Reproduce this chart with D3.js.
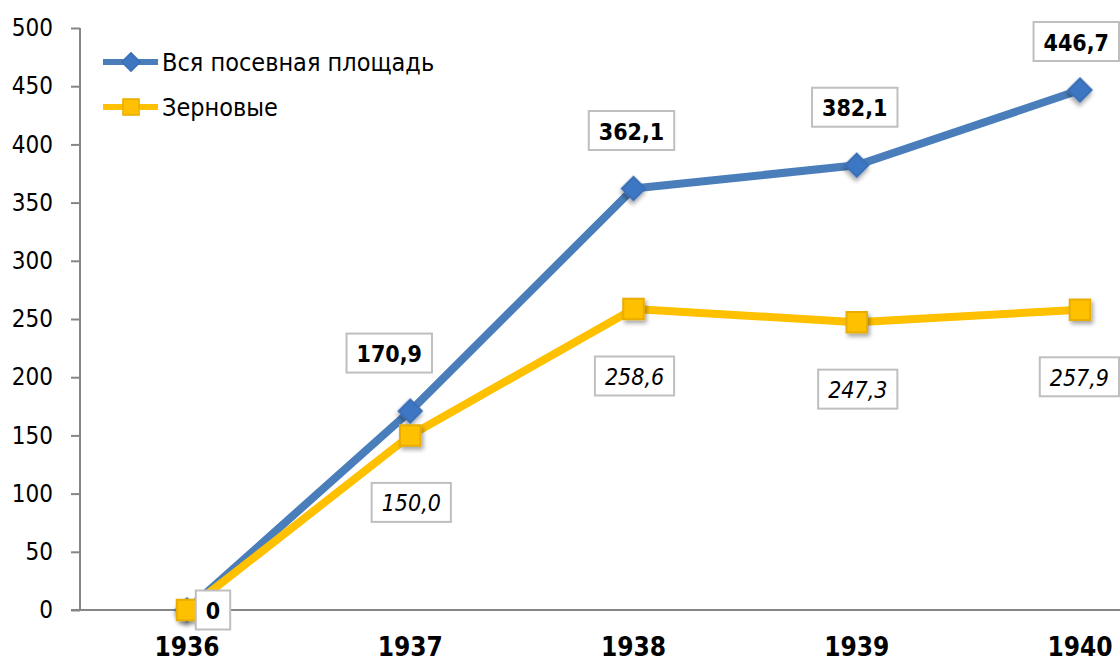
<!DOCTYPE html>
<html>
<head>
<meta charset="utf-8">
<script src="https://cdnjs.cloudflare.com/ajax/libs/d3/7.8.5/d3.min.js"></script>
<style>
  html, body { margin: 0; padding: 0; background: #fff; }
  svg { display: block; }
  text { font-family: "DejaVu Sans Condensed", "DejaVu Sans", sans-serif; font-stretch: condensed; }
</style>
</head>
<body>
<svg id="chart"></svg>
<script>
// Данные
var years = ["1936", "1937", "1938", "1939", "1940"];
var totalArea = [0, 170.9, 362.1, 382.1, 446.7];
var grainArea = [0, 150.0, 258.6, 247.3, 257.9];
var seriesNames = ["Вся посевная площадь", "Зерновые"];
var yTicks = [0, 50, 100, 150, 200, 250, 300, 350, 400, 450, 500];

var W = 1120, H = 664;
var blue = "#4a7ebb", yellow = "#ffc000";

var svg = d3.select("#chart").attr("width", W).attr("height", H);

var defs = svg.append("defs");
var f = defs.append("filter").attr("id", "shadow")
    .attr("x", "-50%").attr("y", "-50%").attr("width", "200%").attr("height", "200%");
f.append("feDropShadow").attr("dx", 2).attr("dy", 3).attr("stdDeviation", 2)
    .attr("flood-color", "#000").attr("flood-opacity", 0.35);

// Шкалы
var x = d3.scalePoint().domain(years).range([187, 1080]);
var y = d3.scaleLinear().domain([0, 500]).range([610, 28]);

// Ось Y
var yAxis = svg.append("g")
    .attr("transform", "translate(80,0)")
    .call(d3.axisLeft(y).tickValues(yTicks).tickSize(9).tickPadding(18));
yAxis.select(".domain").attr("stroke", "#868686").attr("stroke-width", 2).attr("d", "M0,28V610");
yAxis.selectAll(".tick line").attr("stroke", "#868686").attr("stroke-width", 2);
yAxis.selectAll(".tick text").attr("font-size", 24).attr("fill", "#000")
    .attr("font-family", "DejaVu Sans Condensed, DejaVu Sans, sans-serif");

// Ось X
svg.append("line").attr("x1", 71).attr("x2", W).attr("y1", 610).attr("y2", 610)
    .attr("stroke", "#868686").attr("stroke-width", 2);
svg.selectAll(".year").data(years).enter().append("text")
    .attr("x", function(d) { return x(d); })
    .attr("y", 656)
    .attr("text-anchor", "middle")
    .attr("font-size", 26).attr("font-weight", "bold")
    .text(function(d) { return d; });

var line = d3.line()
    .x(function(d, i) { return x(years[i]); })
    .y(function(d) { return y(d); });

function drawSeries(values, color, shape) {
  svg.append("path").datum(values)
      .attr("d", line)
      .attr("fill", "none").attr("stroke", color).attr("stroke-width", 8)
      .attr("stroke-linejoin", "round");
  svg.selectAll(".m" + shape).data(values).enter().append("path")
      .attr("d", d3.symbol().type(d3.symbolSquare).size(shape === "diamond" ? 270 : 420))
      .attr("transform", function(d, i) {
        return "translate(" + x(years[i]) + "," + y(d) + ")" + (shape === "diamond" ? " rotate(45)" : "");
      })
      .attr("fill", shape === "diamond" ? "#3e76c2" : yellow)
      .attr("stroke", shape === "diamond" ? "#3a6fb5" : "#e8ad00")
      .attr("stroke-width", 2)
      .attr("filter", "url(#shadow)");
}

drawSeries(totalArea, blue, "diamond");
drawSeries(grainArea, yellow, "square");

// Подписи данных
function fmt(v) { return v === 0 ? "0" : d3.format(".1f")(v).replace(".", ","); }

function label(cx, cy, txt, bold) {
  var g = svg.append("g");
  var t = g.append("text")
      .attr("text-anchor", "middle")
      .attr("dominant-baseline", "central")
      .attr("font-size", 23)
      .attr("font-weight", bold ? "bold" : "normal")
      .attr("font-style", bold ? "normal" : "italic")
      .text(txt);
  var w = t.node().getComputedTextLength() + 20, h = 39;
  cx = Math.min(cx, 1119 - w / 2);
  cy = Math.max(cy, 22 + h / 2);
  t.attr("x", cx).attr("y", cy + 1);
  g.insert("rect", "text")
      .attr("x", cx - w / 2).attr("y", cy - h / 2)
      .attr("width", w).attr("height", h)
      .attr("fill", "#fff").attr("stroke", "#bfbfbf").attr("stroke-width", 2);
}

totalArea.forEach(function(v, i) {
  if (i === 0) label(x(years[i]) + 26, y(v), fmt(v), true);
  else label(x(years[i]) - (i === 1 ? 21 : 2), y(v) - 58, fmt(v), true);
});
grainArea.forEach(function(v, i) {
  if (i > 0) label(x(years[i]) + 1, y(v) + 67, fmt(v), false);
});

// Легенда
var legend = [
  { name: seriesNames[0], color: blue, shape: "diamond", y: 62 },
  { name: seriesNames[1], color: yellow, shape: "square", y: 107 }
];
legend.forEach(function(l) {
  svg.append("line").attr("x1", 103).attr("x2", 158).attr("y1", l.y).attr("y2", l.y)
      .attr("stroke", l.color).attr("stroke-width", 6);
  svg.append("path")
      .attr("d", d3.symbol().type(d3.symbolSquare).size(l.shape === "diamond" ? 170 : 260))
      .attr("transform", "translate(131," + l.y + ")" + (l.shape === "diamond" ? " rotate(45)" : ""))
      .attr("fill", l.shape === "diamond" ? "#3e76c2" : yellow)
      .attr("stroke", l.shape === "diamond" ? "#3a6fb5" : "#e8ad00")
      .attr("stroke-width", 1.5);
  svg.append("text").attr("x", 162).attr("y", l.y + 9)
      .attr("font-size", 25).text(l.name);
});
</script>
</body>
</html>
